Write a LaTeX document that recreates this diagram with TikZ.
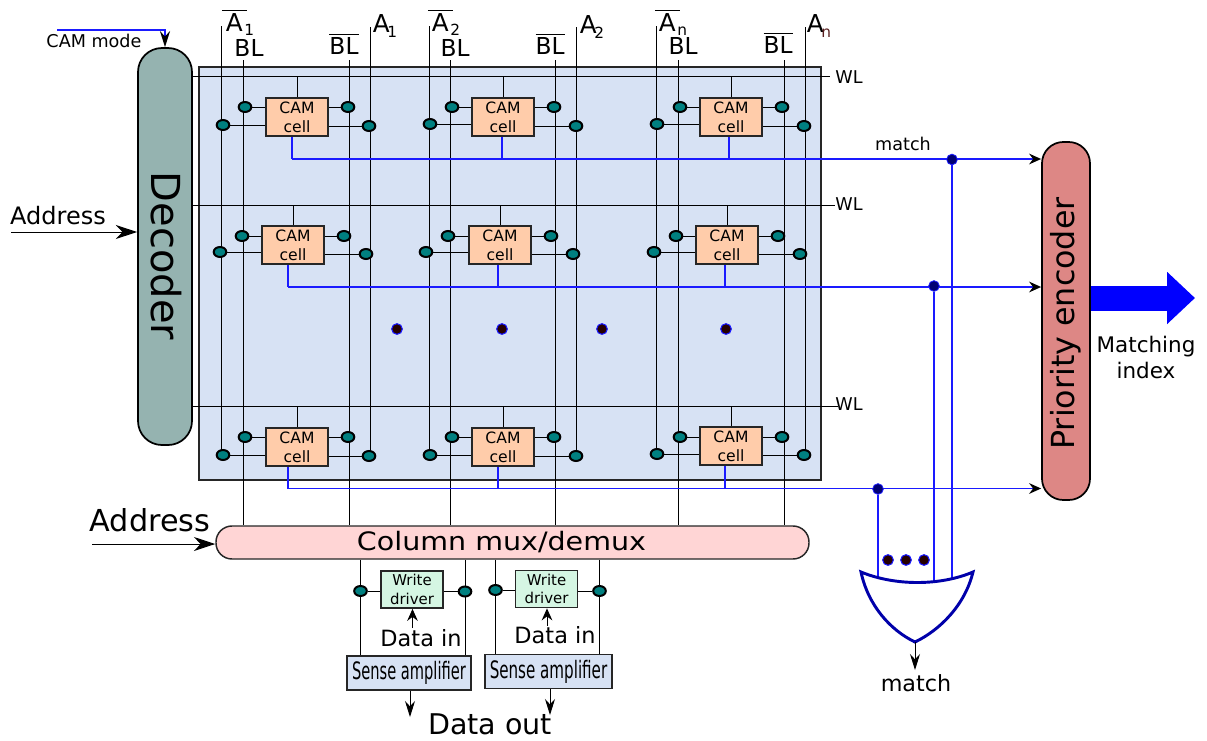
\documentclass[tikz,border=0pt]{standalone}
\usepackage{fontspec}
\usepackage{amsmath}
\usepackage{tikz}
\usetikzlibrary{arrows.meta}
\usetikzlibrary{shapes.geometric}
\setmainfont{DejaVu Sans}

\definecolor{arraybg}{HTML}{D7E2F4}
\definecolor{decoderbg}{HTML}{95B3B0}
\definecolor{encoderbg}{HTML}{DD8785}
\definecolor{muxbg}{HTML}{FFD5D5}
\definecolor{cellbg}{HTML}{FFCCAA}
\definecolor{writebg}{HTML}{D5F6E3}
\definecolor{gateblue}{HTML}{0000AA}
\definecolor{wireblue}{HTML}{1A1AFF}
\definecolor{subred}{HTML}{5A2020}

\newcommand{\barred}[1]{$\overline{\hbox{#1}}$}
\newcommand{\subtext}[1]{\kern-.1em\smash{\raisebox{-3.5pt}{\fontsize{11.5}{12}\selectfont #1}}}

\pgfdeclarelayer{back}
\pgfdeclarelayer{wires}
\pgfsetlayers{back,wires,main}

\tikzset{
    wire/.style={draw=black, line width=0.75pt},
    matchwire/.style={draw=wireblue, line width=1.4pt},
    portdot/.style={ellipse, draw=black, fill=teal, line width=1.5pt, inner sep=0pt, minimum width=9.5pt, minimum height=7.5pt},
    joint/.style={circle, draw=wireblue, fill=black!10!blue!50!black, line width=0.6pt, inner sep=0pt, minimum size=8pt},
    blob/.style={circle, draw=wireblue, fill=black!85!red, line width=0.8pt, inner sep=0pt, minimum size=8pt},
    camcell/.style={draw=black!85, fill=cellbg, line width=1.1pt, minimum width=46.5pt, minimum height=28.5pt, inner sep=0pt, align=center, font=\fontsize{11.7}{14.2}\selectfont},
    writebox/.style={draw=black!85, fill=writebg, line width=1.1pt, minimum width=46.5pt, minimum height=28pt, inner sep=0pt, align=center, font=\fontsize{11.2}{14}\selectfont},
    sensebox/.style={draw=black!85, fill=arraybg, line width=1.1pt, minimum height=25.5pt, inner sep=0pt, font=\fontsize{18}{20}\selectfont},
    toptext/.style={font=\fontsize{17.5}{20}\selectfont},
    atext/.style={font=\fontsize{18.5}{20}\selectfont},
    wltext/.style={font=\fontsize{13.2}{15}\selectfont},
    headarrow/.style={-{Stealth[black, length=9pt, width=8pt, inset=3pt]}},
    midarrow/.style={-{Stealth[black, length=12pt, width=7.5pt, inset=4pt]}},
    bigarrow/.style={-{Stealth[length=16pt, width=10.5pt, inset=5pt]}},
}

\begin{document}
\begin{tikzpicture}[x=0.75pt, y=-0.75pt]
    \useasboundingbox (0,0) rectangle (1207,740);

    % Blocks
    \begin{pgfonlayer}{back}
    \node[draw=black!85, fill=arraybg, line width=1.3pt, minimum width=466.5pt, minimum height=309.75pt, inner sep=0pt] (cellarray) at (510,273.5) {};
    \node[draw=black, fill=decoderbg, line width=1.3pt, rounded corners=18pt, minimum width=40.5pt, minimum height=297.75pt, inner sep=0pt] (decoder) at (165,246.5) {};
    \node[draw=black, fill=encoderbg, line width=1.3pt, rounded corners=16pt, minimum width=36pt, minimum height=268.5pt, inner sep=0pt] (penc) at (1066,321) {};
    \node[draw=black!85, fill=muxbg, line width=1.1pt, rounded corners=12pt, minimum width=444.75pt, minimum height=24.75pt, inner sep=0pt] (mux) at (512.5,542.5) {};
    \end{pgfonlayer}
    \node[rotate=-90, font=\fontsize{30}{32}\selectfont] (decodertext) at (166.5,256) {Decoder};
    \node[rotate=90, font=\fontsize{23.8}{26}\selectfont] (penctext) at (1066,323.5) {Priority encoder};
    \node[font=\fontsize{19}{20}\selectfont] (muxtext) at (501.5,542.5) {\scalebox{1.126}[1]{Column mux/demux}};

    % Top ends of the lines
    \coordinate (a1bar) at (221.5,26);
    \coordinate (bl1) at (243.5,60);
    \coordinate (bl1bar) at (349,60);
    \coordinate (a1) at (370,27);
    \coordinate (a2bar) at (429,26);
    \coordinate (bl2) at (450,60);
    \coordinate (bl2bar) at (555,60);
    \coordinate (a2) at (576,27);
    \coordinate (anbar) at (656,26);
    \coordinate (bln) at (678,60);
    \coordinate (blnbar) at (784,60);
    \coordinate (an) at (805,27);
    \coordinate (wl1) at (830,76);
    \coordinate (wl2) at (835,205);
    \coordinate (wl3) at (838,406);

    % CAM cells
    \node[camcell] (c11) at (297,117) {CAM\\cell};
    \node[camcell] (c12) at (503,117) {CAM\\cell};
    \node[camcell] (c13) at (731,117) {CAM\\cell};
    \node[camcell] (c21) at (293,245) {CAM\\cell};
    \node[camcell] (c22) at (500,245) {CAM\\cell};
    \node[camcell] (c23) at (727,245) {CAM\\cell};
    \node[camcell] (c31) at (297,447) {CAM\\cell};
    \node[camcell] (c32) at (503,447) {CAM\\cell};
    \node[camcell] (c33) at (731,446) {CAM\\cell};

    % Ports
    \node[portdot] (p11a) at (245,107) {};
    \node[portdot] (p11b) at (223,125) {};
    \node[portdot] (p11c) at (348,107) {};
    \node[portdot] (p11d) at (369,126) {};
    \node[portdot] (p12a) at (452,107) {};
    \node[portdot] (p12b) at (430,124) {};
    \node[portdot] (p12c) at (554,107) {};
    \node[portdot] (p12d) at (576,126) {};
    \node[portdot] (p13a) at (680,107) {};
    \node[portdot] (p13b) at (657,124) {};
    \node[portdot] (p13c) at (782,107) {};
    \node[portdot] (p13d) at (804,126) {};

    \node[portdot] (p21a) at (242,236) {};
    \node[portdot] (p21b) at (220,252) {};
    \node[portdot] (p21c) at (344,236) {};
    \node[portdot] (p21d) at (366,254) {};
    \node[portdot] (p22a) at (448,236) {};
    \node[portdot] (p22b) at (426,252) {};
    \node[portdot] (p22c) at (551,236) {};
    \node[portdot] (p22d) at (573,254) {};
    \node[portdot] (p23a) at (676,236) {};
    \node[portdot] (p23b) at (654,252) {};
    \node[portdot] (p23c) at (778,236) {};
    \node[portdot] (p23d) at (800,254) {};

    \node[portdot] (p31a) at (245,437) {};
    \node[portdot] (p31b) at (223,455) {};
    \node[portdot] (p31c) at (348,437) {};
    \node[portdot] (p31d) at (369,456) {};
    \node[portdot] (p32a) at (452,437) {};
    \node[portdot] (p32b) at (430,455) {};
    \node[portdot] (p32c) at (554,437) {};
    \node[portdot] (p32d) at (576,456) {};
    \node[portdot] (p33a) at (680,437) {};
    \node[portdot] (p33b) at (657,454) {};
    \node[portdot] (p33c) at (782,437) {};
    \node[portdot] (p33d) at (804,455) {};

    % Write and sense path
    \node[writebox] (write1) at (412,589.5) {Write\\driver};
    \node[writebox] (write2) at (546.5,589) {Write\\driver};
    \node[sensebox, minimum width=93pt] (sense1) at (409,673) {\scalebox{.61}[1]{Sense amplifier}};
    \node[sensebox, minimum width=95.25pt] (sense2) at (548.5,671.5) {\scalebox{.63}[1]{Sense amplifier}};
    \node[portdot] (w1l) at (360.5,591) {};
    \node[portdot] (w1r) at (465,591.5) {};
    \node[portdot] (w2l) at (495.5,590) {};
    \node[portdot] (w2r) at (599.5,591) {};

    % Match joints and gate points
    \coordinate (m11) at (292,159);
    \coordinate (m12) at (502,159);
    \coordinate (m13) at (729,159);
    \coordinate (m21) at (288,287);
    \coordinate (m22) at (498,287);
    \coordinate (m23) at (725,287);
    \coordinate (m31) at (288,488.5);
    \coordinate (m32) at (498,488.5);
    \coordinate (m33) at (725,488.5);
    \coordinate (orleft) at (861,572);
    \coordinate (orright) at (973,572);
    \coordinate (orbottom) at (915,642);
    \coordinate (orbus) at (915,585);
    \node[joint] (j1) at (952,159.5) {};
    \node[joint] (j2) at (934,286) {};
    \node[joint] (j3) at (878,489) {};

    \begin{pgfonlayer}{wires}
    % Word lines
    \draw[wire] (decoder.east |- wl1) -- (wl1);
    \draw[wire] (decoder.east |- wl2) -- (wl2);
    \draw[wire] (decoder.east |- wl3) -- (wl3);

    % Bit and address lines
    \draw[wire] (a1bar) -- (a1bar |- p31b);
    \draw[wire] (bl1) -- (bl1 |- mux.north);
    \draw[wire] (bl1bar) -- (bl1bar |- mux.north);
    \draw[wire] (a1) -- (a1 |- p31d);
    \draw[wire] (a2bar) -- (a2bar |- p32b);
    \draw[wire] (bl2) -- (bl2 |- mux.north);
    \draw[wire] (bl2bar) -- (bl2bar |- mux.north);
    \draw[wire] (a2) -- (a2 |- p32d);
    \draw[wire] (anbar) -- (anbar |- p33b);
    \draw[wire] (bln) -- (bln |- mux.north);
    \draw[wire] (blnbar) -- (blnbar |- mux.north);
    \draw[wire] (an) -- (an |- p33d);

    % Stubs to the word lines
    \draw[wire] (c11.north) -- (c11.north |- wl1);
    \draw[wire] (c12.north) -- (c12.north |- wl1);
    \draw[wire] (c13.north) -- (c13.north |- wl1);
    \draw[wire] (c21.north) -- (c21.north |- wl2);
    \draw[wire] (c22.north) -- (c22.north |- wl2);
    \draw[wire] (c23.north) -- (c23.north |- wl2);
    \draw[wire] (c31.north) -- (c31.north |- wl3);
    \draw[wire] (c32.north) -- (c32.north |- wl3);
    \draw[wire] (c33.north) -- (c33.north |- wl3);

    % Ports to cells
    \draw[wire] (p11a) -- (p11a -| c11.west);
    \draw[wire] (p11b) -- (p11b -| c11.west);
    \draw[wire] (p11c) -- (p11c -| c11.east);
    \draw[wire] (p11d) -- (p11d -| c11.east);
    \draw[wire] (p12a) -- (p12a -| c12.west);
    \draw[wire] (p12b) -- (p12b -| c12.west);
    \draw[wire] (p12c) -- (p12c -| c12.east);
    \draw[wire] (p12d) -- (p12d -| c12.east);
    \draw[wire] (p13a) -- (p13a -| c13.west);
    \draw[wire] (p13b) -- (p13b -| c13.west);
    \draw[wire] (p13c) -- (p13c -| c13.east);
    \draw[wire] (p13d) -- (p13d -| c13.east);

    \draw[wire] (p21a) -- (p21a -| c21.west);
    \draw[wire] (p21b) -- (p21b -| c21.west);
    \draw[wire] (p21c) -- (p21c -| c21.east);
    \draw[wire] (p21d) -- (p21d -| c21.east);
    \draw[wire] (p22a) -- (p22a -| c22.west);
    \draw[wire] (p22b) -- (p22b -| c22.west);
    \draw[wire] (p22c) -- (p22c -| c22.east);
    \draw[wire] (p22d) -- (p22d -| c22.east);
    \draw[wire] (p23a) -- (p23a -| c23.west);
    \draw[wire] (p23b) -- (p23b -| c23.west);
    \draw[wire] (p23c) -- (p23c -| c23.east);
    \draw[wire] (p23d) -- (p23d -| c23.east);

    \draw[wire] (p31a) -- (p31a -| c31.west);
    \draw[wire] (p31b) -- (p31b -| c31.west);
    \draw[wire] (p31c) -- (p31c -| c31.east);
    \draw[wire] (p31d) -- (p31d -| c31.east);
    \draw[wire] (p32a) -- (p32a -| c32.west);
    \draw[wire] (p32b) -- (p32b -| c32.west);
    \draw[wire] (p32c) -- (p32c -| c32.east);
    \draw[wire] (p32d) -- (p32d -| c32.east);
    \draw[wire] (p33a) -- (p33a -| c33.west);
    \draw[wire] (p33b) -- (p33b -| c33.west);
    \draw[wire] (p33c) -- (p33c -| c33.east);
    \draw[wire] (p33d) -- (p33d -| c33.east);

    % Write and sense edges
    \draw[wire] (w1l |- mux.south) -- (w1l |- sense1.north);
    \draw[wire] (w1r |- mux.south) -- (w1r |- sense1.north);
    \draw[wire] (w2l |- mux.south) -- (w2l |- sense2.north);
    \draw[wire] (w2r |- mux.south) -- (w2r |- sense2.north);
    \draw[wire] (w1l) -- (w1l -| write1.west);
    \draw[wire] (w1r) -- (w1r -| write1.east);
    \draw[wire] (w2l) -- (w2l -| write2.west);
    \draw[wire] (w2r) -- (w2r -| write2.east);

    % Match lines
    \draw[matchwire] (m11 |- c11.south) -- (m11);
    \draw[matchwire] (m12 |- c12.south) -- (m12);
    \draw[matchwire] (m13 |- c13.south) -- (m13);
    \draw[matchwire] (m21 |- c21.south) -- (m21);
    \draw[matchwire] (m22 |- c22.south) -- (m22);
    \draw[matchwire] (m23 |- c23.south) -- (m23);
    \draw[matchwire] (m31 |- c31.south) -- (m31);
    \draw[matchwire] (m32 |- c32.south) -- (m32);
    \draw[matchwire] (m33 |- c33.south) -- (m33);
    \draw[matchwire, headarrow] (m11) -- (m11 -| penc.west);
    \draw[matchwire, headarrow] (m21) -- (m21 -| penc.west);
    \draw[matchwire, headarrow] (m31) -- (m31 -| penc.west);
    \draw[matchwire] (j1) -- (j1 |- orbus);
    \draw[matchwire] (j2) -- (j2 |- orbus);
    \draw[matchwire] (j3) -- (j3 |- orbus);
    \end{pgfonlayer}

    % OR gate
    \draw[draw=gateblue, fill=white, line width=2.2pt, line join=miter] (orleft) .. controls (895,586) and (940,586) .. (orright) .. controls (965,605) and (940,630) .. (orbottom) .. controls (890,630) and (868,605) .. (orleft) -- cycle;
    \node[blob] (or1) at (888,560) {};
    \node[blob] (or2) at (906,560) {};
    \node[blob] (or3) at (924,560) {};

    % Array dots
    \node[blob] (v1) at (397,329) {};
    \node[blob] (v2) at (502,329) {};
    \node[blob] (v3) at (602,329) {};
    \node[blob] (v4) at (726,329) {};

    % Inputs and outputs
    \coordinate (addr1) at (11,232);
    \coordinate (addr2) at (92,544);
    \coordinate (modestart) at (57,30);
    \coordinate (modecorner) at (165,30);
    \coordinate (encout) at (1091,298);
    \coordinate (index) at (1195,298);
    \coordinate (orout) at (915,670);
    \coordinate (in1) at (412.5,628);
    \coordinate (in2) at (547,626);
    \coordinate (out1) at (410,717);
    \coordinate (out2) at (550,715);

    \draw[wire, bigarrow] (addr1) -- (addr1 -| decoder.west);
    \draw[wire, bigarrow] (addr2) -- (addr2 -| mux.west);
    \draw[matchwire, midarrow] (modestart) -- (modecorner) -- (decoder.north);
    \draw[draw=blue, line width=18.75pt, -{Triangle[length=21pt, width=38pt]}] (encout) -- (index);
    \draw[wire, midarrow] (orbottom) -- (orout);
    \draw[wire, headarrow] (in1) -- (in1 |- write1.south);
    \draw[wire, headarrow] (in2) -- (in2 |- write2.south);
    \draw[wire, midarrow] (out1 |- sense1.south) -- (out1);
    \draw[wire, midarrow] (out2 |- sense2.south) -- (out2);

    % Labels
    \node[atext] (la1bar) at (238,20) {\barred{\,A\,}\subtext{1}};
    \node[toptext] (lbl1) at (249,48) {BL};
    \node[toptext] (lbl1bar) at (344,44) {\barred{BL}};
    \node[atext] (la1) at (385,24) {A\subtext{1}};
    \node[atext] (la2bar) at (444,20) {\barred{\,A\,}\subtext{2}};
    \node[toptext] (lbl2) at (455,48) {BL};
    \node[toptext] (lbl2bar) at (550,44) {\barred{BL}};
    \node[atext] (la2) at (592,25) {A\subtext{2}};
    \node[atext] (lanbar) at (671,20) {\barred{\,A\,}\subtext{n}};
    \node[toptext] (lbln) at (683,46) {BL};
    \node[toptext] (lblnbar) at (778,43) {\barred{BL}};
    \node[atext] (lan) at (819,24) {A\subtext{\textcolor{subred}{n}}};
    \node[wltext] (lwl1) at (849,77) {WL};
    \node[wltext] (lwl2) at (849,204) {WL};
    \node[wltext] (lwl3) at (849,404) {WL};
    \node[wltext] (lmode) at (94,41) {CAM mode};
    \node[wltext] (lmatch) at (903,144) {match};
    \node[font=\fontsize{18}{20}\selectfont] (laddr1) at (58,216) {Address};
    \node[font=\fontsize{22.7}{25}\selectfont] (laddr2) at (150,520) {Address};
    \node[font=\fontsize{16.7}{18}\selectfont] (lorout) at (916,683) {match};
    \node[font=\fontsize{16.1}{19.5}\selectfont, align=center] (lindex) at (1146,357) {Matching\\index};
    \node[font=\fontsize{16.8}{19}\selectfont] (lin1) at (421,638) {Data in};
    \node[font=\fontsize{16.8}{19}\selectfont] (lin2) at (555,635) {Data in};
    \node[font=\fontsize{21.4}{24}\selectfont] (lout) at (490,724) {Data out};
\end{tikzpicture}
\end{document}
